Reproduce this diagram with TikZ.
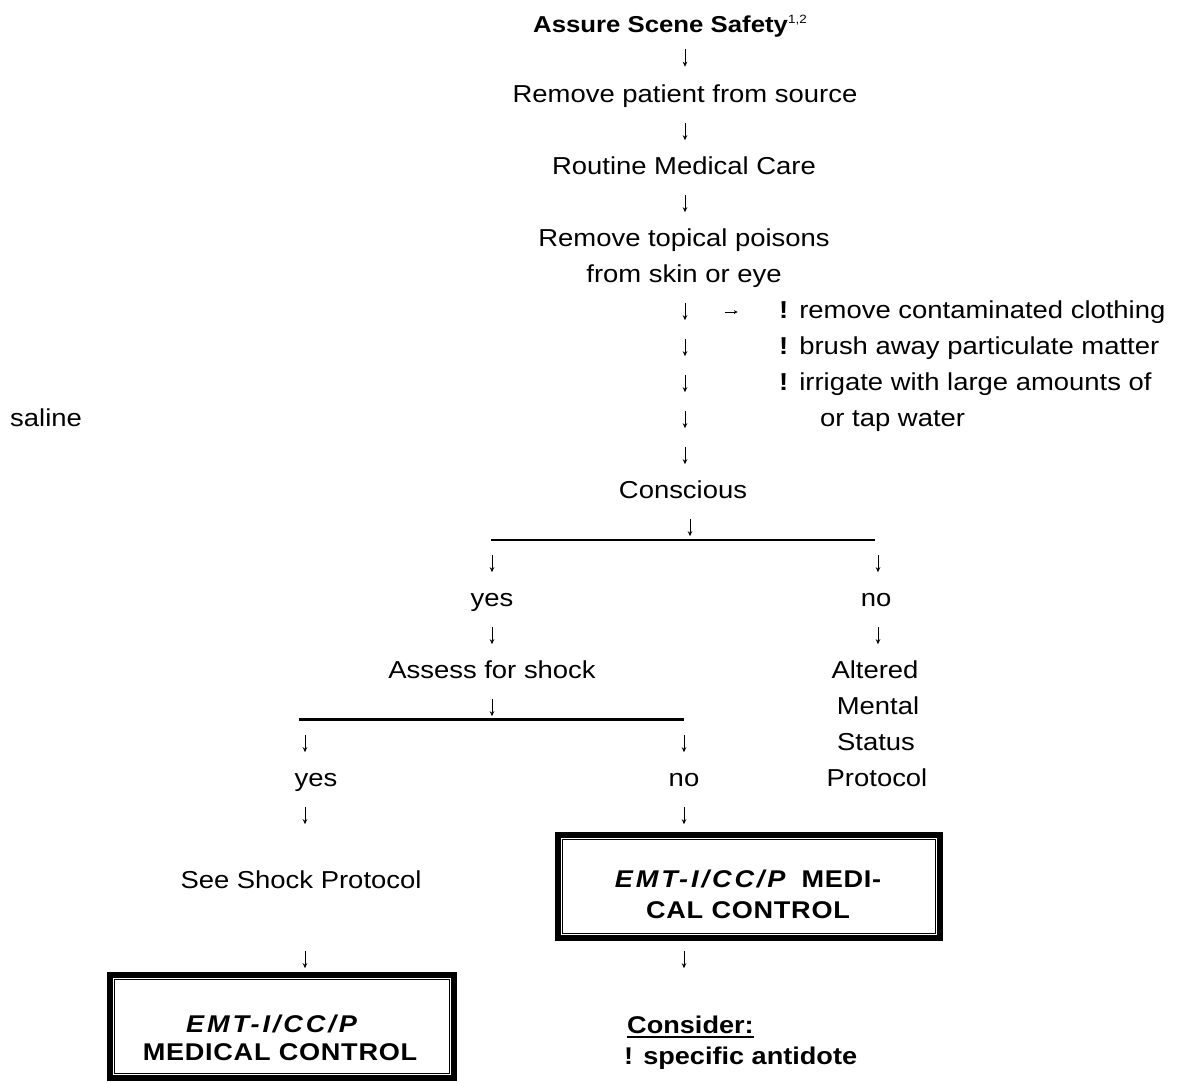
\documentclass[tikz,border=0pt]{standalone}
\usepackage{fontspec}
\setmainfont{Liberation Sans}[FakeStretch=1.12]
\usetikzlibrary{arrows.meta}

\tikzset{
  lbl/.style={font=\fontsize{24.5}{36}\selectfont, inner sep=0pt, anchor=base},
  lblw/.style={lbl, anchor=base west},
  boldw/.style={lblw, font=\fontsize{24.2}{30}\selectfont\bfseries},
  boxtext/.style={lbl, font=\fontsize{24.2}{29}\selectfont\bfseries\addfontfeature{LetterSpace=3}},
  stub/.style={inner sep=0pt, minimum height=17pt, minimum width=0pt},
  down/.style={-{Stealth[length=5pt,width=4.5pt]}, line width=0.8pt},
  side/.style={-{Stealth[length=4pt,width=4pt]}, line width=0.7pt},
  bar/.style={line width=2.4pt},
  frame/.style={draw, line width=5.5pt, inner sep=0pt},
  inframe/.style={line width=1.4pt},
}

\newcommand{\bul}{\textbf{!}\hspace{11pt}}
\newcommand{\emtip}{{\itshape\addfontfeature{LetterSpace=12}EMT-I/CC/P}}
\newcommand{\undl}[1]{\setbox0\hbox{#1}\rlap{\rule[-4.5pt]{\wd0}{2pt}}\box0}

\begin{document}
\begin{tikzpicture}[x=1pt,y=-1pt]
\useasboundingbox (0,0) rectangle (1182,1082);

% main column
\node[lblw, font=\fontsize{23}{30}\selectfont\bfseries] (title) at (533,32)
  {Assure Scene Safety\raisebox{9pt}{\mdseries\fontsize{12}{12}\selectfont 1,2}};
\node[lbl] (patient) at (685,102) {Remove patient from source};
\node[lbl] (routine) at (684,174) {Routine Medical Care};
\node[lbl] (topical) at (684,246) {Remove topical poisons};
\node[lbl] (skin) at (684,282) {from skin or eye};

% decontamination steps
\node[lblw] (cloth) at (779,318) {\bul remove contaminated clothing};
\node[lblw] (brush) at (779,354) {\bul brush away particulate matter};
\node[lblw] (irrig) at (779,390) {\bul irrigate with large amounts of};
\node[lblw] (saline) at (10,426) {saline};
\node[lblw] (tap) at (820,426) {or tap water};

\node[lbl] (conscious) at (683,498) {Conscious};

% first branch
\node[lbl] (yes1) at (492,606) {yes};
\node[lbl] (no1) at (876,606) {no};
\node[lbl] (shock) at (492,678) {Assess for shock};
\foreach \n/\t/\x/\y in {alt1/Altered/875/678, alt2/Mental/878/714,
    alt3/Status/876/750, alt4/Protocol/877/786}
  \node[lbl] (\n) at (\x,\y) {\t};

% second branch
\node[lbl] (yes2) at (316,786) {yes};
\node[lbl] (no2) at (684,786) {no};
\node[lbl] (seeshock) at (301,888) {See Shock Protocol};

% medical control boxes
\node[frame, minimum width=382pt, minimum height=103pt] (box1) at (749,886.5) {};
\draw[inframe] ([shift={(7,7)}]box1.north west) rectangle ([shift={(-7,-7)}]box1.south east);
\node[boxtext] (mc1a) at (748,887) {\emtip\hspace{16pt}MEDI-};
\node[boxtext] (mc1b) at (748,918) {CAL CONTROL};

\node[frame, minimum width=344pt, minimum height=103pt] (box2) at (282,1026.5) {};
\draw[inframe] ([shift={(7,7)}]box2.north west) rectangle ([shift={(-7,-7)}]box2.south east);
\node[boxtext] (mc2a) at (271.5,1032) {\emtip};
\node[boxtext] (mc2b) at (280,1060) {MEDICAL CONTROL};

\node[boldw] (consider) at (627,1033) {\undl{Consider:}};
\node[boldw] (antidote) at (624,1064) {! specific antidote};

% arrows
\foreach \n/\x/\y in {d1/685/58, d2/685/131.5, d3/685/203.5, d4/685/311.5,
    d5/685/347.5, d6/685/383.5, d7/685/419.5, d8/685/455.5, d9/690/527.5,
    d10/492/563.5, d11/878/563.5, d12/492/635.5, d13/878/635.5, d14/492/707.5,
    d15/305/743.5, d16/684/743.5, d17/305/815.5, d18/684/815.5,
    d19/305/959.5, d20/684/959.5}
  {\node[stub] (\n) at (\x,\y) {};
   \draw[down] (\n.north) -- (\n.south);}

\node[stub, minimum height=0pt, minimum width=12pt] (r1) at (731.5,312) {};
\draw[side] (r1.west) -- (r1.east);

% branch bars
\coordinate (bar1w) at (491,540);
\coordinate (bar1e) at (875,540);
\draw[bar] (bar1w) -- (bar1e);
\coordinate (bar2w) at (299,719.5);
\coordinate (bar2e) at (684,719.5);
\draw[bar] (bar2w) -- (bar2e);

\end{tikzpicture}
\end{document}
